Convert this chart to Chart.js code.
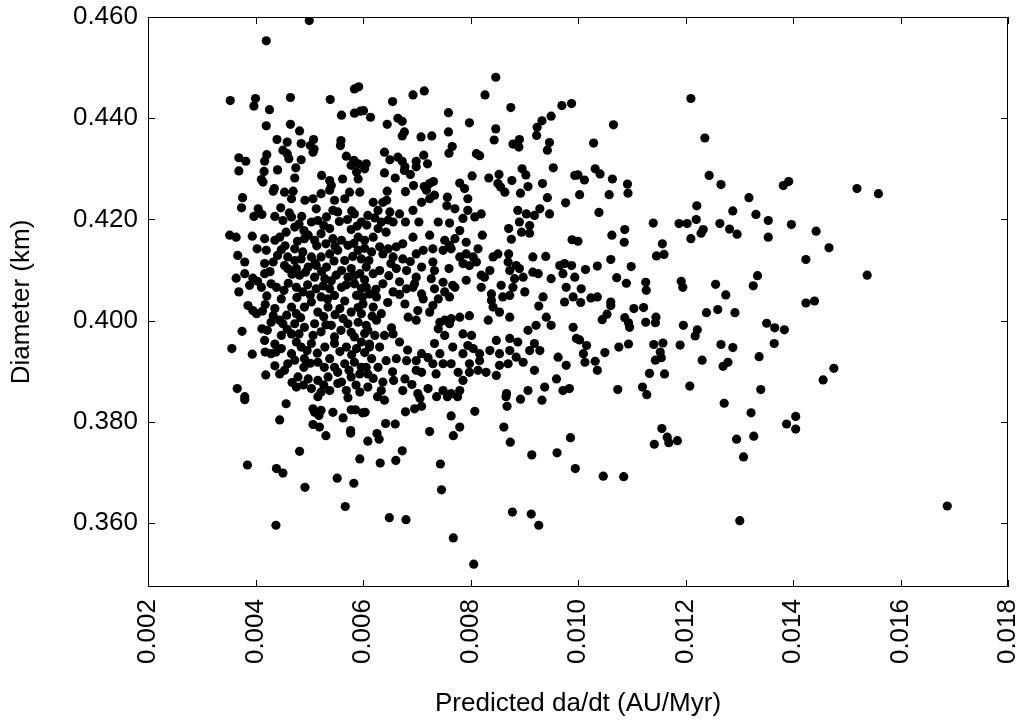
<!DOCTYPE html>
<html>
<head>
<meta charset="utf-8">
<script src="https://cdn.jsdelivr.net/npm/chart.js@4.4.0/dist/chart.umd.min.js"></script>
<style>
  html, body { margin: 0; padding: 0; background: #fff; }
  #wrap { width: 1023px; height: 721px; }
</style>
</head>
<body>
<div id="wrap"><canvas id="dadtChart"></canvas></div>
<script>
const xTicks = [0.002, 0.004, 0.006, 0.008, 0.010, 0.012, 0.014, 0.016, 0.018];
const yTicks = [0.360, 0.380, 0.400, 0.420, 0.440, 0.460];

// [da/dt, diameter], grouped by region
const upperLeft = [
  [0.00500,0.4593],[0.00420,0.4553],[0.00353,0.4435],[0.00400,0.4439],[0.00397,0.4424],[0.00426,0.4417],
  [0.00465,0.4441],[0.00539,0.4437],[0.00584,0.4458],[0.00592,0.4462],[0.00560,0.4406],[0.00584,0.4410],
  [0.00595,0.4414],[0.00420,0.4385],[0.00465,0.4388],[0.00482,0.4375],[0.00440,0.4358],[0.00459,0.4353],
  [0.00485,0.4350],[0.00508,0.4358],[0.00502,0.4346],[0.00509,0.4339],[0.00507,0.4333],[0.00559,0.4356],
  [0.00558,0.4346],[0.00451,0.4337],[0.00459,0.4330],[0.00462,0.4320],[0.00421,0.4328],[0.00417,0.4315],
  [0.00485,0.4318],[0.00369,0.4322],[0.00382,0.4315],[0.00369,0.4296],[0.00416,0.4295],[0.00441,0.4298],
  [0.00475,0.4302],[0.00473,0.4282],[0.00411,0.4279],[0.00414,0.4274],[0.00523,0.4287],[0.00538,0.4277],
  [0.00541,0.4267],[0.00562,0.4280],[0.00569,0.4325],[0.00583,0.4317],[0.00578,0.4307],[0.00591,0.4310],
  [0.00588,0.4294],[0.00591,0.4280],[0.00435,0.4261],[0.00433,0.4256],[0.00454,0.4254],[0.00470,0.4256],
  [0.00467,0.4241],[0.00376,0.4243],[0.00492,0.4238],[0.00507,0.4241],[0.00522,0.4251],[0.00538,0.4258],
  [0.00547,0.4238],[0.00566,0.4241],[0.00575,0.4254],[0.00594,0.4254]
];

const upperMid = [
  [0.00847,0.4481],[0.00827,0.4446],[0.00875,0.4421],[0.00970,0.4425],[0.00988,0.4429],[0.00950,0.4404],
  [0.00933,0.4395],[0.00924,0.4382],[0.00923,0.4366],[0.00947,0.4352],[0.00943,0.4337],[0.00954,0.4302],
  [0.00994,0.4287],[0.00693,0.4446],[0.00714,0.4454],[0.00655,0.4433],[0.00601,0.4415],[0.00614,0.4402],
  [0.00645,0.4388],[0.00665,0.4400],[0.00673,0.4394],[0.00677,0.4373],[0.00673,0.4365],[0.00708,0.4363],
  [0.00728,0.4365],[0.00759,0.4411],[0.00759,0.4373],[0.00798,0.4391],[0.00766,0.4344],[0.00760,0.4331],
  [0.00811,0.4330],[0.00817,0.4326],[0.00847,0.4379],[0.00844,0.4357],[0.00879,0.4349],[0.00891,0.4358],
  [0.00890,0.4343],[0.00640,0.4333],[0.00650,0.4318],[0.00665,0.4323],[0.00673,0.4315],[0.00678,0.4304],
  [0.00677,0.4297],[0.00699,0.4315],[0.00713,0.4327],[0.00720,0.4310],[0.00699,0.4304],[0.00606,0.4310],
  [0.00603,0.4300],[0.00640,0.4292],[0.00660,0.4282],[0.00688,0.4289],[0.00679,0.4255],[0.00645,0.4256],
  [0.00694,0.4267],[0.00714,0.4265],[0.00724,0.4271],[0.00731,0.4275],[0.00718,0.4258],[0.00733,0.4248],
  [0.00724,0.4241],[0.00757,0.4244],[0.00780,0.4272],[0.00789,0.4261],[0.00795,0.4241],[0.00803,0.4286],
  [0.00834,0.4282],[0.00853,0.4289],[0.00851,0.4271],[0.00856,0.4264],[0.00864,0.4254],[0.00877,0.4277],
  [0.00896,0.4300],[0.00903,0.4288],[0.00907,0.4265],[0.00934,0.4271],[0.00893,0.4252],[0.00943,0.4243],
  [0.00977,0.4233],[0.00619,0.4234],[0.00637,0.4234],[0.00644,0.4238],[0.00709,0.4234],[0.00756,0.4227]
];

const denseLeft = [
  [0.00374,0.4223],[0.00405,0.4221],[0.00447,0.4223],[0.00513,0.4221],[0.00544,0.4218],[0.00579,0.4217],
  [0.00397,0.4206],[0.00412,0.4210],[0.00436,0.4206],[0.00451,0.4198],[0.00467,0.4205],[0.00486,0.4206],
  [0.00504,0.4195],[0.00516,0.4198],[0.00532,0.4205],[0.00553,0.4215],[0.00571,0.4200],[0.00584,0.4211],
  [0.00597,0.4195],[0.00352,0.4169],[0.00364,0.4165],[0.00394,0.4167],[0.00417,0.4162],[0.00436,0.4159],
  [0.00445,0.4165],[0.00457,0.4175],[0.00473,0.4185],[0.00490,0.4178],[0.00498,0.4169],[0.00510,0.4159],
  [0.00522,0.4172],[0.00538,0.4182],[0.00544,0.4162],[0.00560,0.4159],[0.00578,0.4180],[0.00591,0.4165],
  [0.00491,0.4162],[0.00403,0.4142],[0.00420,0.4139],[0.00448,0.4140],[0.00473,0.4142],[0.00488,0.4136],
  [0.00504,0.4126],[0.00522,0.4126],[0.00538,0.4132],[0.00553,0.4139],[0.00572,0.4149],[0.00591,0.4139],
  [0.00367,0.4129],[0.00460,0.4126],[0.00485,0.4122],[0.00566,0.4119],[0.00597,0.4122],[0.00380,0.4116],
  [0.00417,0.4113],[0.00433,0.4116],[0.00454,0.4109],[0.00460,0.4103],[0.00476,0.4103],[0.00498,0.4106],
  [0.00513,0.4109],[0.00532,0.4106],[0.00560,0.4099],[0.00578,0.4103],[0.00594,0.4093],[0.00417,0.4093],
  [0.00482,0.4090],[0.00510,0.4086],[0.00529,0.4083],[0.00550,0.4090],[0.00572,0.4086],[0.00364,0.4084],
  [0.00380,0.4093],[0.00395,0.4084],[0.00389,0.4070],[0.00411,0.4066],[0.00429,0.4073],[0.00439,0.4066],
  [0.00453,0.4060],[0.00476,0.4066],[0.00488,0.4057],[0.00513,0.4063],[0.00538,0.4063],[0.00560,0.4066],
  [0.00584,0.4073],[0.00369,0.4057],[0.00522,0.4047],[0.00547,0.4050],[0.00588,0.4050],[0.00386,0.4030],
  [0.00395,0.4020],[0.00402,0.4014],[0.00418,0.4032],[0.00436,0.4024],[0.00433,0.4010],[0.00445,0.4001],
  [0.00467,0.4027],[0.00476,0.4014],[0.00491,0.4027],[0.00504,0.4037],[0.00516,0.4017],[0.00535,0.4027],
  [0.00557,0.4024],[0.00578,0.4017],[0.00597,0.4014],[0.00375,0.3979],[0.00412,0.3984],[0.00429,0.3997],
  [0.00451,0.3994],[0.00473,0.3994],[0.00491,0.3987],[0.00510,0.3994],[0.00522,0.3978],[0.00541,0.3991],
  [0.00572,0.3994],[0.00591,0.3997],[0.00448,0.3971],[0.00467,0.3974],[0.00507,0.3971],[0.00547,0.3968],
  [0.00584,0.3968],[0.00356,0.3945],[0.00394,0.3934],[0.00417,0.3961],[0.00418,0.3938],[0.00429,0.3935],
  [0.00436,0.3954],[0.00448,0.3945],[0.00467,0.3935],[0.00485,0.3948],[0.00504,0.3955],[0.00529,0.3948],
  [0.00547,0.3955],[0.00569,0.3948],[0.00588,0.3945],[0.00597,0.3958],[0.00460,0.3915],[0.00473,0.3922],
  [0.00491,0.3925],[0.00516,0.3918],[0.00538,0.3925],[0.00547,0.3908],[0.00566,0.3915],[0.00584,0.3918],
  [0.00597,0.3908],[0.00490,0.3908],[0.00419,0.3893],[0.00445,0.3895],[0.00454,0.3902],[0.00479,0.3889],
  [0.00498,0.3885],[0.00516,0.3882],[0.00535,0.3889],[0.00560,0.3879],[0.00578,0.3889],[0.00594,0.3895],
  [0.00366,0.3866],[0.00380,0.3850],[0.00476,0.3869],[0.00504,0.3866],[0.00522,0.3859],[0.00538,0.3862],
  [0.00569,0.3862],[0.00594,0.3859]
];

// the darkest part of the cloud, where dots merge
const denseCore = [
  [0.00463,0.4213],[0.00481,0.4191],[0.00527,0.4188],[0.00556,0.4196],[0.00589,0.4187],[0.00607,0.4189],
  [0.00622,0.4203],[0.00647,0.4199],[0.00455,0.4148],[0.00478,0.4157],[0.00514,0.4148],[0.00531,0.4152],
  [0.00548,0.4147],[0.00583,0.4153],[0.00603,0.4143],[0.00616,0.4136],[0.00441,0.4129],[0.00473,0.4119],
  [0.00511,0.4114],[0.00546,0.4118],[0.00581,0.4127],[0.00611,0.4119],[0.00652,0.4113],[0.00688,0.4117],
  [0.00427,0.4097],[0.00468,0.4092],[0.00493,0.4096],[0.00523,0.4097],[0.00541,0.4079],[0.00584,0.4089],
  [0.00603,0.4081],[0.00648,0.4089],[0.00404,0.4078],[0.00461,0.4074],[0.00497,0.4071],[0.00526,0.4069],
  [0.00569,0.4071],[0.00597,0.4064],[0.00624,0.4062],[0.00668,0.4077],[0.00421,0.4049],[0.00448,0.4043],
  [0.00477,0.4046],[0.00502,0.4051],[0.00534,0.4043],[0.00566,0.4039],[0.00599,0.4047],[0.00646,0.4036],
  [0.00413,0.4019],[0.00458,0.4011],[0.00484,0.4006],[0.00527,0.4008],[0.00548,0.4012],[0.00563,0.4004],
  [0.00591,0.4026],[0.00617,0.4009],[0.00422,0.3981],[0.00459,0.3983],[0.00481,0.3974],[0.00531,0.3992],
  [0.00559,0.3981],[0.00578,0.3977],[0.00603,0.3975],[0.00653,0.3986],[0.00438,0.3938],[0.00476,0.3958],
  [0.00496,0.3941],[0.00515,0.3936],[0.00557,0.3939],[0.00579,0.3933],[0.00603,0.3937],[0.00683,0.3942],
  [0.00436,0.3911],[0.00502,0.3916],[0.00528,0.3908],[0.00553,0.3898],[0.00574,0.3902],[0.00609,0.3895],
  [0.00655,0.3899],[0.00721,0.3927],[0.00468,0.3878],[0.00489,0.3873],[0.00527,0.3873],[0.00553,0.3876],
  [0.00587,0.3873],[0.00619,0.3886],[0.00657,0.3882],[0.00691,0.3874]
];

const denseMid = [
  [0.00609,0.4208],[0.00628,0.4218],[0.00650,0.4215],[0.00668,0.4211],[0.00693,0.4218],[0.00634,0.4195],
  [0.00656,0.4195],[0.00679,0.4195],[0.00704,0.4195],[0.00740,0.4195],[0.00761,0.4193],[0.00771,0.4221],
  [0.00795,0.4218],[0.00786,0.4202],[0.00808,0.4205],[0.00820,0.4211],[0.00888,0.4218],[0.00904,0.4211],
  [0.00919,0.4208],[0.00929,0.4221],[0.00891,0.4195],[0.00910,0.4188],[0.00947,0.4211],[0.00628,0.4182],
  [0.00643,0.4175],[0.00619,0.4165],[0.00603,0.4159],[0.00693,0.4165],[0.00724,0.4169],[0.00752,0.4159],
  [0.00761,0.4149],[0.00780,0.4178],[0.00771,0.4162],[0.00792,0.4155],[0.00822,0.4169],[0.00871,0.4182],
  [0.00876,0.4161],[0.00895,0.4175],[0.00910,0.4173],[0.00989,0.4160],[0.00631,0.4146],[0.00647,0.4142],
  [0.00662,0.4146],[0.00674,0.4152],[0.00637,0.4132],[0.00656,0.4126],[0.00674,0.4122],[0.00699,0.4132],
  [0.00712,0.4139],[0.00730,0.4142],[0.00749,0.4139],[0.00764,0.4142],[0.00780,0.4126],[0.00792,0.4132],
  [0.00805,0.4126],[0.00814,0.4142],[0.00786,0.4113],[0.00798,0.4109],[0.00811,0.4116],[0.00842,0.4126],
  [0.00851,0.4132],[0.00871,0.4132],[0.00916,0.4126],[0.00940,0.4127],[0.00966,0.4109],[0.00975,0.4113],
  [0.00988,0.4109],[0.00870,0.4116],[0.00885,0.4109],[0.00606,0.4106],[0.00619,0.4093],[0.00631,0.4099],
  [0.00637,0.4073],[0.00662,0.4103],[0.00681,0.4099],[0.00699,0.4086],[0.00696,0.4073],[0.00709,0.4106],
  [0.00730,0.4116],[0.00733,0.4099],[0.00760,0.4103],[0.00727,0.4083],[0.00749,0.4076],[0.00767,0.4070],
  [0.00792,0.4080],[0.00820,0.4090],[0.00836,0.4099],[0.00826,0.4086],[0.00873,0.4099],[0.00891,0.4103],
  [0.00882,0.4083],[0.00898,0.4086],[0.00916,0.4096],[0.00926,0.4093],[0.00950,0.4083],[0.00972,0.4093],
  [0.00978,0.4066],[0.00994,0.4086],[0.00606,0.4066],[0.00612,0.4053],[0.00625,0.4047],[0.00656,0.4057],
  [0.00668,0.4052],[0.00681,0.4063],[0.00693,0.4066],[0.00709,0.4053],[0.00712,0.4043],[0.00733,0.4063],
  [0.00740,0.4043],[0.00761,0.4047],[0.00771,0.4066],[0.00752,0.4057],[0.00820,0.4066],[0.00839,0.4053],
  [0.00857,0.4070],[0.00860,0.4047],[0.00873,0.4050],[0.00879,0.4066],[0.00901,0.4057],[0.00935,0.4047],
  [0.00975,0.4037],[0.00991,0.4047],[0.00600,0.4033],[0.00619,0.4027],[0.00634,0.4014],[0.00625,0.4001],
  [0.00606,0.3991],[0.00678,0.4033],[0.00684,0.4007],[0.00699,0.4001],[0.00702,0.4020],[0.00724,0.4017],
  [0.00730,0.4030],[0.00752,0.4001],[0.00764,0.4004],[0.00780,0.4007],[0.00798,0.4010],[0.00833,0.4001],
  [0.00842,0.4027],[0.00839,0.4040],[0.00854,0.4017],[0.00873,0.4007],[0.00922,0.3991],[0.00941,0.4007],
  [0.00950,0.3991],[0.00927,0.4029],[0.00991,0.3987],[0.00609,0.3981],[0.00622,0.3971],[0.00640,0.3971],
  [0.00656,0.3974],[0.00668,0.3958],[0.00612,0.3954],[0.00740,0.3984],[0.00743,0.3997],[0.00761,0.3994],
  [0.00752,0.3971],[0.00786,0.3974],[0.00802,0.3971],[0.00795,0.3951],[0.00848,0.3961],[0.00873,0.3965],
  [0.00888,0.3958],[0.00907,0.3981],[0.00919,0.3955],[0.00997,0.3965],[0.00612,0.3948],[0.00631,0.3948],
  [0.00616,0.3925],[0.00643,0.3921],[0.00662,0.3925],[0.00681,0.3921],[0.00699,0.3921],[0.00709,0.3935],
  [0.00733,0.3955],[0.00743,0.3935],[0.00767,0.3948],[0.00786,0.3935],[0.00805,0.3945],[0.00817,0.3935],
  [0.00836,0.3941],[0.00854,0.3935],[0.00873,0.3941],[0.00885,0.3928],[0.00910,0.3941],[0.00929,0.3941],
  [0.00963,0.3928],[0.00978,0.3912],[0.00854,0.3912],[0.00870,0.3915],[0.00606,0.3908],[0.00628,0.3908],
  [0.00678,0.3885],[0.00699,0.3902],[0.00709,0.3898],[0.00730,0.3915],[0.00749,0.3915],[0.00736,0.3895],
  [0.00764,0.3915],[0.00777,0.3898],[0.00786,0.3882],[0.00798,0.3898],[0.00814,0.3902],[0.00829,0.3898],
  [0.00848,0.3892],[0.00798,0.3915],[0.00817,0.3921],[0.00919,0.3902],[0.00960,0.3885],[0.00898,0.3918],
  [0.00609,0.3869],[0.00634,0.3862],[0.00637,0.3879],[0.00674,0.3862],[0.00702,0.3856],[0.00721,0.3866],
  [0.00749,0.3862],[0.00764,0.3856],[0.00780,0.3862],[0.00867,0.3856],[0.00907,0.3862],[0.00938,0.3869],
  [0.00972,0.3862],[0.00984,0.3866]
];

const lowerLeft = [
  [0.00380,0.3844],[0.00457,0.3836],[0.00516,0.3850],[0.00572,0.3848],[0.00445,0.3804],[0.00507,0.3826],
  [0.00510,0.3819],[0.00522,0.3823],[0.00518,0.3813],[0.00544,0.3819],[0.00563,0.3808],[0.00578,0.3824],
  [0.00586,0.3824],[0.00599,0.3818],[0.00507,0.3795],[0.00519,0.3790],[0.00531,0.3773],[0.00577,0.3783],
  [0.00577,0.3778],[0.00594,0.3727],[0.00482,0.3742],[0.00385,0.3715],[0.00439,0.3708],[0.00451,0.3699],
  [0.00492,0.3671],[0.00552,0.3689],[0.00583,0.3679],[0.00567,0.3633],[0.00438,0.3596]
];

const lowerMid = [
  [0.00627,0.3850],[0.00640,0.3843],[0.00706,0.3847],[0.00737,0.3850],[0.00757,0.3850],[0.00776,0.3850],
  [0.00604,0.3819],[0.00679,0.3820],[0.00696,0.3826],[0.00709,0.3831],[0.00642,0.3797],[0.00660,0.3796],
  [0.00626,0.3777],[0.00630,0.3766],[0.00609,0.3762],[0.00764,0.3812],[0.00780,0.3790],[0.00768,0.3773],
  [0.00724,0.3781],[0.00808,0.3821],[0.00866,0.3850],[0.00893,0.3845],[0.00933,0.3843],[0.00868,0.3831],
  [0.00862,0.3790],[0.00874,0.3760],[0.00914,0.3735],[0.00961,0.3739],[0.00986,0.3769],[0.00673,0.3743],
  [0.00661,0.3724],[0.00632,0.3719],[0.00744,0.3717],[0.00746,0.3666],[0.00649,0.3611],[0.00680,0.3607],
  [0.00768,0.3571],[0.00806,0.3519],[0.00878,0.3622],[0.00913,0.3618],[0.00927,0.3596]
];

const rightSide = [
  [0.01210,0.4439],[0.01066,0.4387],[0.01029,0.4351],[0.01236,0.4361],[0.01032,0.4300],[0.01041,0.4290],
  [0.01012,0.4278],[0.01000,0.4288],[0.01064,0.4280],[0.01092,0.4270],[0.01093,0.4252],[0.01058,0.4249],
  [0.01003,0.4249],[0.01244,0.4287],[0.01266,0.4269],[0.01318,0.4243],[0.01382,0.4267],[0.01392,0.4275],
  [0.01221,0.4227],[0.01519,0.4261],[0.01559,0.4251],
  [0.01039,0.4214],[0.01140,0.4193],[0.01188,0.4192],[0.01203,0.4192],[0.01220,0.4200],[0.01288,0.4217],
  [0.01331,0.4210],[0.01354,0.4198],[0.01397,0.4190],[0.01264,0.4192],[0.01282,0.4181],[0.01296,0.4171],
  [0.01233,0.4180],[0.01229,0.4173],[0.01210,0.4162],[0.01354,0.4165],[0.01087,0.4180],[0.01063,0.4169],
  [0.01086,0.4155],[0.01157,0.4152],[0.01146,0.4128],[0.01160,0.4131],[0.01000,0.4157],[0.01061,0.4121],
  [0.01014,0.4101],[0.01036,0.4108],[0.01099,0.4107],[0.01072,0.4085],[0.01090,0.4074],[0.01126,0.4076],
  [0.01127,0.4060],[0.01192,0.4078],[0.01195,0.4066],[0.01256,0.4072],[0.01275,0.4051],[0.01334,0.4089],
  [0.01326,0.4069],[0.01006,0.4063],[0.01005,0.4036],[0.01024,0.4045],[0.01036,0.4047],[0.01061,0.4037],
  [0.01061,0.4030],[0.01104,0.4024],[0.01122,0.4026],[0.01054,0.4013],[0.01045,0.4002],[0.01087,0.4006],
  [0.01094,0.3996],[0.01096,0.3987],[0.01126,0.3997],[0.01145,0.4007],[0.01144,0.3996],[0.01239,0.4016],
  [0.01260,0.4022],[0.01292,0.4016],[0.01196,0.3991],[0.01222,0.3982],[0.01218,0.3970],[0.01351,0.3995],
  [0.01366,0.3986],[0.01384,0.3982],[0.01003,0.3962],[0.01016,0.3951],[0.01010,0.3935],[0.01013,0.3918],
  [0.01032,0.3920],[0.01036,0.3902],[0.01050,0.3937],[0.01076,0.3948],[0.01094,0.3954],[0.01141,0.3953],
  [0.01158,0.3956],[0.01153,0.3938],[0.01155,0.3927],[0.01144,0.3922],[0.01190,0.3952],[0.01266,0.3953],
  [0.01288,0.3947],[0.01365,0.3955],[0.01231,0.3922],[0.01270,0.3910],[0.01279,0.3918],[0.01337,0.3929],
  [0.01133,0.3896],[0.01161,0.3895],[0.01074,0.3864],[0.01120,0.3869],[0.01128,0.3854],[0.01208,0.3871],
  [0.01340,0.3864],
  [0.01443,0.4177],[0.01467,0.4144],[0.01424,0.4121],[0.01538,0.4090],[0.01424,0.4035],[0.01440,0.4039],
  [0.01476,0.3906],[0.01456,0.3883],
  [0.01272,0.3837],[0.01322,0.3818],[0.01388,0.3796],[0.01405,0.3811],[0.01405,0.3786],[0.01156,0.3787],
  [0.01166,0.3770],[0.01169,0.3759],[0.01185,0.3763],[0.01142,0.3756],[0.01295,0.3766],[0.01327,0.3772],
  [0.01308,0.3731],[0.00995,0.3708],[0.01047,0.3693],[0.01085,0.3692],[0.01301,0.3605],[0.01687,0.3634]
];

const allPoints = [].concat(upperLeft, upperMid, denseLeft, denseCore, denseMid, lowerLeft, lowerMid, rightSide)
  .map(p => ({ x: p[0], y: p[1] }));

const fontFamily = '"Liberation Sans", Arial, Helvetica, sans-serif';
const fontSize = 26;

// gnuplot style frame: box border with inward ticks on all four sides
const frameTicks = {
  id: 'frameTicks',
  afterDatasetsDraw(chart) {
    const { ctx, chartArea: a, scales: { x, y } } = chart;
    const len = 7;
    ctx.save();
    ctx.strokeStyle = '#000';
    ctx.lineWidth = 1;
    ctx.beginPath();
    xTicks.forEach(v => {
      const px = Math.round(x.getPixelForValue(v)) + 0.5;
      ctx.moveTo(px, a.bottom); ctx.lineTo(px, a.bottom - len);
      ctx.moveTo(px, a.top); ctx.lineTo(px, a.top + len);
    });
    yTicks.forEach(v => {
      const py = Math.round(y.getPixelForValue(v)) + 0.5;
      ctx.moveTo(a.left, py); ctx.lineTo(a.left + len, py);
      ctx.moveTo(a.right, py); ctx.lineTo(a.right - len, py);
    });
    ctx.stroke();
    ctx.strokeRect(a.left + 0.5, a.top + 0.5, a.right - a.left - 1, a.bottom - a.top - 1);
    ctx.restore();
  }
};

// keep the plot box where the reference has it
function noScalePadding(scale) {
  scale.paddingLeft = 0;
  scale.paddingRight = 0;
  scale.paddingTop = 0;
  scale.paddingBottom = 0;
}

const ctx = document.getElementById('dadtChart').getContext('2d');
const dadtChart = new Chart(ctx, {
  type: 'scatter',
  data: {
    datasets: [{
      data: allPoints,
      backgroundColor: '#000',
      borderWidth: 0,
      pointRadius: 4.6,
      pointHoverRadius: 4.6
    }]
  },
  options: {
    responsive: true,
    maintainAspectRatio: false,
    animation: false,
    layout: { padding: { top: 17, right: 15, left: 0, bottom: 0 } },
    plugins: {
      legend: { display: false },
      tooltip: { enabled: false }
    },
    scales: {
      x: {
        type: 'linear',
        min: 0.002,
        max: 0.018,
        afterBuildTicks: (scale) => { scale.ticks = xTicks.map(v => ({ value: v })); },
        afterFit: (scale) => { scale.height = 134; noScalePadding(scale); },
        grid: { display: false, drawTicks: false },
        border: { display: false },
        ticks: {
          minRotation: 90,
          maxRotation: 90,
          padding: 12,
          color: '#000',
          font: { family: fontFamily, size: fontSize },
          callback: (v) => Number(v).toFixed(3)
        },
        title: {
          display: true,
          text: 'Predicted da/dt (AU/Myr)',
          color: '#000',
          font: { family: fontFamily, size: fontSize },
          padding: { top: 0, bottom: 2 }
        }
      },
      y: {
        type: 'linear',
        min: 0.3474,
        max: 0.460,
        afterBuildTicks: (scale) => { scale.ticks = yTicks.map(v => ({ value: v })); },
        afterFit: (scale) => { scale.width = 148; noScalePadding(scale); },
        grid: { display: false, drawTicks: false },
        border: { display: false },
        ticks: {
          padding: 10,
          color: '#000',
          font: { family: fontFamily, size: fontSize },
          callback: (v) => Number(v).toFixed(3)
        },
        title: {
          display: true,
          text: 'Diameter (km)',
          color: '#000',
          font: { family: fontFamily, size: fontSize },
          padding: { top: 6, bottom: 0 }
        }
      }
    }
  },
  plugins: [frameTicks]
});
</script>
</body>
</html>
